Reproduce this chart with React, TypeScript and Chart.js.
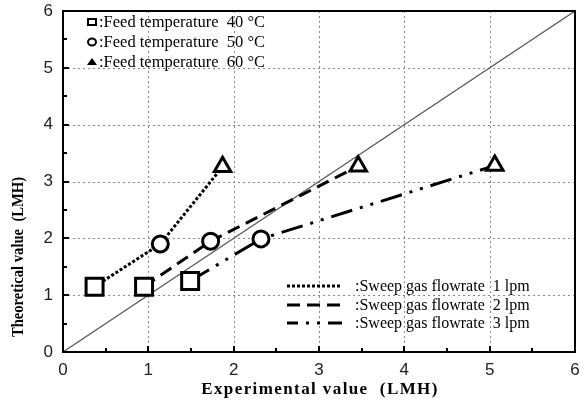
import React, { useEffect, useRef } from "react";
import { Chart, registerables } from "chart.js";

Chart.register(...registerables);

// ---- Data ----
const tempLabels = ["40", "50", "60"];
const flowLabels = ["1", "2", "3"];
const flow1X = [0.37, 1.14, 1.87];
const flow1Y = [1.15, 1.9, 3.26];
const flow2X = [0.95, 1.73, 3.46];
const flow2Y = [1.15, 1.95, 3.27];
const flow3X = [1.49, 2.32, 5.06];
const flow3Y = [1.25, 1.99, 3.28];
const diagonal = [0, 6];
const tickValues = [0, 1, 2, 3, 4, 5, 6];

const markerStyles = ["rect", "circle", "triangle"];
const markerRadii = [12, 8, 9.5];
const dashes = [
  [3, 2],
  [13, 7],
  [22, 8, 3, 8, 3, 8],
];

const toPts = (xs: number[], ys: number[]) => xs.map((x, i) => ({ x, y: ys[i] }));

const decorPlugin = {
  id: "decor",
  beforeDatasetsDraw(chart: any) {
    const ctx = chart.ctx;
    const xs = chart.scales.x;
    const ys = chart.scales.y;
    const { left, right, top, bottom } = chart.chartArea;
    ctx.save();
    // dotted grid
    ctx.strokeStyle = "#888";
    ctx.lineWidth = 1;
    ctx.setLineDash([2, 3]);
    ctx.beginPath();
    tickValues.forEach((v) => {
      if (v === 0 || v === 6) return;
      const px = Math.round(xs.getPixelForValue(v)) + 0.5;
      ctx.moveTo(px, top);
      ctx.lineTo(px, bottom);
      const py = Math.round(ys.getPixelForValue(v)) + 0.5;
      ctx.moveTo(left, py);
      ctx.lineTo(right, py);
    });
    ctx.stroke();
    ctx.setLineDash([]);
    // inward ticks
    ctx.strokeStyle = "#000";
    ctx.lineWidth = 2;
    ctx.beginPath();
    for (let v = 0.5; v < 6; v += 0.5) {
      const len = Number.isInteger(v) ? 6 : 4;
      const px = Math.round(xs.getPixelForValue(v));
      ctx.moveTo(px, bottom);
      ctx.lineTo(px, bottom - len);
      const py = Math.round(ys.getPixelForValue(v));
      ctx.moveTo(left, py);
      ctx.lineTo(left + len, py);
    }
    ctx.stroke();
    // tick labels
    ctx.fillStyle = "#222";
    ctx.font = "17px 'Liberation Sans'";
    ctx.textAlign = "center";
    ctx.textBaseline = "middle";
    tickValues.forEach((v) => {
      ctx.fillText(String(v), xs.getPixelForValue(v), bottom + 18);
    });
    ctx.textAlign = "right";
    tickValues.forEach((v) => {
      ctx.fillText(String(v), left - 10, ys.getPixelForValue(v));
    });
    ctx.restore();
  },
  afterDraw(chart: any) {
    const ctx = chart.ctx;
    const { left, right, top, bottom } = chart.chartArea;
    ctx.save();
    ctx.strokeStyle = "#000";
    ctx.lineWidth = 2;
    ctx.strokeRect(left, top, right - left, bottom - top);

    // axis titles
    ctx.fillStyle = "#000";
    ctx.font = "bold 17px 'Liberation Serif'";
    ctx.textAlign = "center";
    ctx.textBaseline = "middle";
    (ctx as any).letterSpacing = "1.4px";
    ctx.fillText("Experimental value  (LMH)", 320, 390);
    (ctx as any).letterSpacing = "0px";
    ctx.save();
    ctx.translate(19, 257);
    ctx.rotate(-Math.PI / 2);
    ctx.scale(0.86, 1);
    ctx.fillText("Theoretical value  (LMH)", 0, 0);
    ctx.restore();

    // legend: feed temperature
    ctx.font = "16.5px 'Liberation Serif'";
    ctx.textAlign = "left";
    const rowsY = [22, 42, 62];
    tempLabels.forEach((t, i) => {
      const y = rowsY[i];
      const mx = 92;
      ctx.lineWidth = 2;
      ctx.strokeStyle = "#000";
      ctx.fillStyle = "#fff";
      ctx.beginPath();
      if (i === 0) {
        ctx.rect(mx - 4, y - 3, 8, 6);
        ctx.fill();
        ctx.stroke();
      } else if (i === 1) {
        ctx.ellipse(mx, y, 4, 3.5, 0, 0, Math.PI * 2);
        ctx.fill();
        ctx.stroke();
      } else {
        ctx.fillStyle = "#000";
        ctx.moveTo(mx - 5, y + 3);
        ctx.lineTo(mx + 5, y + 3);
        ctx.lineTo(mx, y - 4);
        ctx.closePath();
        ctx.fill();
      }
      ctx.fillStyle = "#000";
      const base = ":Feed temperature  " + t + " ";
      ctx.fillText(base, 99, y + 1);
      const w = ctx.measureText(base).width;
      ctx.fillText("\u00B0C", 99 + w, y + 1);
    });

    // legend: sweep gas flowrate
    ctx.font = "16px 'Liberation Serif'";
    const rows2 = [286, 305, 323];
    flowLabels.forEach((f, i) => {
      const y = rows2[i];
      ctx.save();
      ctx.strokeStyle = "#000";
      ctx.lineWidth = 3;
      ctx.setLineDash(dashes[i]);
      if (i === 2) ctx.lineDashOffset = 11;
      ctx.beginPath();
      ctx.moveTo(287, y);
      ctx.lineTo(342, y);
      ctx.stroke();
      ctx.restore();
      ctx.fillStyle = "#000";
      ctx.fillText(":Sweep gas flowrate  " + f + " lpm", 355, y + 1);
    });
    ctx.restore();
  },
};

export default function App() {
  const ref = useRef<HTMLCanvasElement>(null);
  useEffect(() => {
    if (!ref.current) return;
    const lineDs = (xs: number[], ys: number[], i: number) => ({
      label: "Sweep gas flowrate " + flowLabels[i] + " lpm",
      data: toPts(xs, ys),
      borderColor: "#000",
      borderWidth: 3,
      borderDash: dashes[i],
      borderCapStyle: "butt",
      fill: false,
      tension: 0,
      pointStyle: markerStyles,
      pointRadius: markerRadii,
      pointBackgroundColor: "#fff",
      pointBorderColor: "#000",
      pointBorderWidth: 3,
      order: 1,
    });
    const chart = new Chart(ref.current, {
      type: "line",
      data: {
        datasets: [
          lineDs(flow1X, flow1Y, 0),
          lineDs(flow2X, flow2Y, 1),
          lineDs(flow3X, flow3Y, 2),
          {
            label: "y=x",
            data: diagonal.map((v) => ({ x: v, y: v })),
            borderColor: "#555",
            borderWidth: 1.2,
            pointRadius: 0,
            fill: false,
            order: 5,
          },
        ],
      },
      options: {
        responsive: false,
        animation: false,
        layout: { autoPadding: false, padding: { top: 11, right: 10, left: 0, bottom: 0 } },
        plugins: {
          legend: { display: false },
          tooltip: { enabled: false },
          title: { display: false },
        },
        scales: {
          x: {
            type: "linear",
            min: 0,
            max: 6,
            afterFit: (s: any) => {
              s.height = 49;
            },
            grid: { display: false },
            border: { display: false },
            ticks: { display: false },
          },
          y: {
            type: "linear",
            min: 0,
            max: 6,
            afterFit: (s: any) => {
              s.width = 63;
            },
            grid: { display: false },
            border: { display: false },
            ticks: { display: false },
          },
        },
      },
      plugins: [decorPlugin],
    } as any);
    return () => chart.destroy();
  }, []);
  return (
    <div style={{ position: "absolute", left: 0, top: 0, width: 585, height: 401, background: "#fff" }}>
      <canvas ref={ref} width={585} height={401} />
    </div>
  );
}
